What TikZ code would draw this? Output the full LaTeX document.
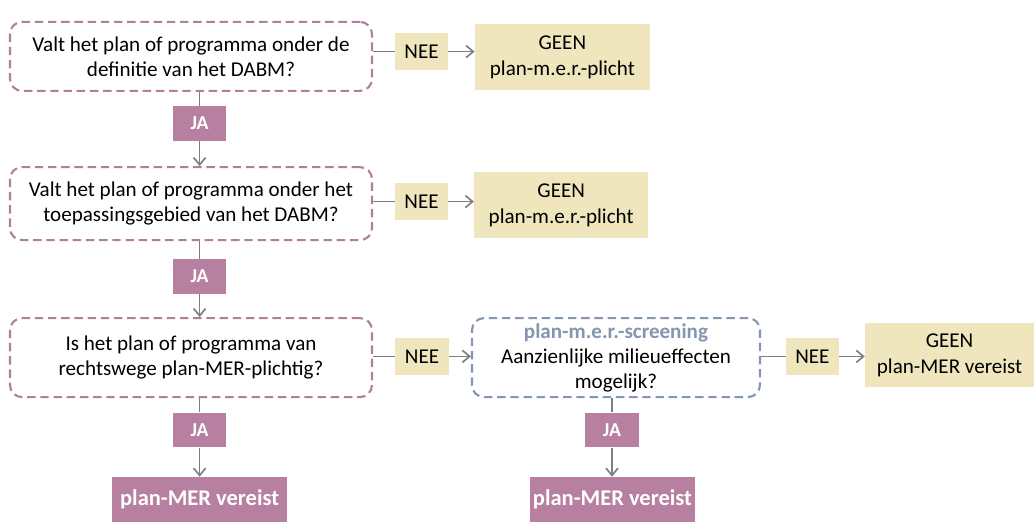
\documentclass[tikz,border=0pt]{standalone}
\usepackage{fontspec}
\setmainfont{Carlito}
\usepackage{tikz}
\usetikzlibrary{positioning,arrows.meta,calc}
\definecolor{merpink}{HTML}{B07FA0}
\definecolor{merja}{HTML}{B780A0}
\definecolor{meryellow}{HTML}{EFE6BE}
\definecolor{merblue}{HTML}{8496B0}
\definecolor{mergray}{HTML}{7F7F7F}

\begin{document}
\begin{tikzpicture}[
  vraag/.style={draw=merpink, line width=1.5pt, dash pattern=on 2.1mm off 1.2mm, rounded corners=3mm,
                fill=white, align=center, font=\fontsize{15}{17.8}\selectfont, inner sep=0pt},
  scr/.style={vraag, draw=merblue},
  nee/.style={fill=meryellow, font=\fontsize{15}{17.8}\selectfont, minimum width=13.3mm, minimum height=9.2mm, inner sep=0pt},
  geen/.style={fill=meryellow, align=center, font=\fontsize{15}{18.5}\selectfont, inner sep=0pt},
  ja/.style={fill=merja, text=white, font=\fontsize{14}{16}\selectfont\bfseries, minimum width=13.3mm, minimum height=8.7mm, inner sep=0pt},
  mer/.style={fill=merja, text=white, font=\fontsize{16}{18}\selectfont\bfseries, minimum height=11.3mm, inner sep=0pt},
  arr/.style={-{Straight Barb[length=1.8mm,width=3mm]}, line width=1.2pt, draw=mergray},
  lijn/.style={line width=1.2pt, draw=mergray},
]
\useasboundingbox (0,0) rectangle (25.85,-13.05);

\node[vraag, minimum width=9.05cm, minimum height=1.725cm] (v1) at (4.775,-1.41)
  {Valt het plan of programma onder de\\definitie van het DABM?};
\node[vraag, minimum width=9.05cm, minimum height=1.825cm] (v2) at (4.775,-5.09)
  {Valt het plan of programma onder het\\toepassingsgebied van het DABM?};
\node[vraag, minimum width=9.05cm, minimum height=1.975cm] (v3) at (4.775,-8.94)
  {Is het plan of programma van\\rechtswege plan-MER-plichtig?};
\node[scr, minimum width=7.2cm, minimum height=1.975cm] (scr) at (15.4,-8.94)
  {\textcolor{merblue}{\bfseries plan-m.e.r.-screening}\\Aanzienlijke milieueffecten\\mogelijk?};

\node[nee] (nee1) at (10.54,-1.29) {NEE};
\node[nee] (nee2) at (10.54,-5.04) {NEE};
\node[nee] (nee3) at (10.55,-8.91) {NEE};
\node[nee] (nee4) at (20.31,-8.91) {NEE};

\node[geen, minimum width=4.375cm, minimum height=1.65cm] (geen1) at (14.06,-1.425) {GEEN\\plan-m.e.r.-plicht};
\node[geen, minimum width=4.35cm, minimum height=1.65cm] (geen2) at (14.03,-5.125) {GEEN\\plan-m.e.r.-plicht};
\node[geen, minimum width=4.225cm, minimum height=1.6cm] (geen3) at (23.74,-8.875) {GEEN\\plan-MER vereist};

\node[ja] (ja1) at (4.99,-3.09) {JA};
\node[ja] (ja2) at (4.99,-6.91) {JA};
\node[ja] (ja3) at (4.99,-10.75) {JA};
\node[ja] (ja4) at (15.3,-10.75) {JA};

\node[mer, minimum width=4.375cm] (mer1) at (4.99,-12.49) {plan-MER vereist};
\node[mer, minimum width=4.125cm] (mer2) at (15.31,-12.49) {plan-MER vereist};

% NEE-takken
\draw[lijn] (v1.east |- nee1) -- (nee1);
\draw[arr] (nee1) -- (geen1.west |- nee1);
\draw[lijn] (v2.east |- nee2) -- (nee2);
\draw[arr] (nee2) -- (geen2.west |- nee2);
\draw[lijn] (v3.east |- nee3) -- (nee3);
\draw[arr] (nee3) -- (scr.west |- nee3);
\draw[lijn] (scr.east |- nee4) -- (nee4);
\draw[arr] (nee4) -- (geen3.west |- nee4);

% JA-takken
\draw[lijn] (v1.south -| ja1) -- (ja1);
\draw[arr] (ja1) -- (v2.north -| ja1);
\draw[lijn] (v2.south -| ja2) -- (ja2);
\draw[arr] (ja2) -- (v3.north -| ja2);
\draw[lijn] (v3.south -| ja3) -- (ja3);
\draw[arr] (ja3) -- (mer1);
\draw[lijn] (scr.south -| ja4) -- (ja4);
\draw[arr] (ja4) -- (mer2.north -| ja4);
\end{tikzpicture}
\end{document}
